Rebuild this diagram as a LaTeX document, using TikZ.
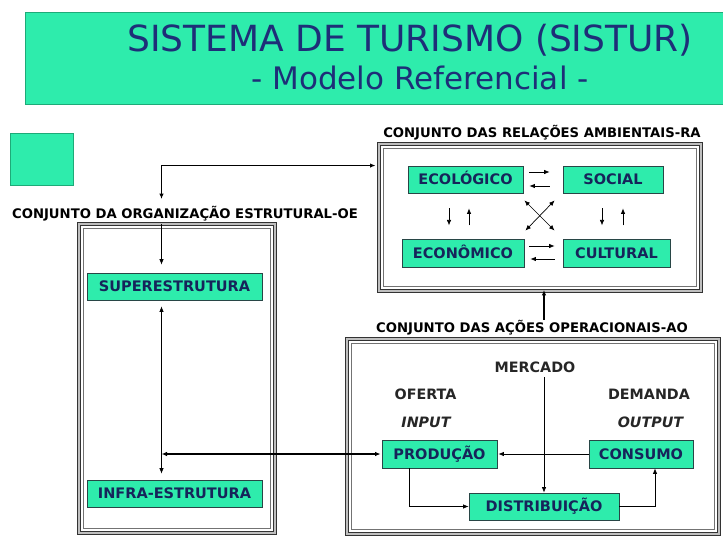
\documentclass[tikz,border=0pt]{standalone}
\usepackage{fontspec}
\setmainfont{DejaVu Sans}
\usetikzlibrary{arrows.meta}
\definecolor{aqua}{RGB}{46,236,172}
\definecolor{navy}{RGB}{22,36,90}
\definecolor{tnavy}{RGB}{30,46,120}
\definecolor{edge}{RGB}{40,70,70}
\definecolor{tedge}{RGB}{30,170,120}
\begin{document}
\begin{tikzpicture}[x=1pt,y=-1pt,
  box/.style={draw=edge, line width=0.8pt, fill=aqua, text=navy,
    font=\bfseries\fontsize{14.5}{16}\selectfont, inner sep=0pt,
    text height=10.4pt, text depth=0pt},
  lab/.style={font=\bfseries\fontsize{13.2}{15}\selectfont, text=black, inner sep=0pt, anchor=base},
  mk/.style={font=\bfseries\fontsize{14.3}{16}\selectfont, text=black!85, inner sep=0pt,
    text height=10.4pt, text depth=0pt},
  frame/.style={draw=black!80, line width=0.9pt, double=gray!50, double distance=1.8pt, inner sep=0pt},
  inframe/.style={draw=black!55, line width=0.6pt},
  tip/.tip={Latex[length=5.5pt,width=4.5pt]},
  arr/.style={-tip, line width=0.7pt, black},
  barr/.style={tip-tip, line width=1.5pt, black},
]
\useasboundingbox (0,0) rectangle (723,536);

% title
\node[draw=tedge, line width=1pt, fill=aqua, minimum width=702pt, minimum height=92pt, anchor=north west, inner sep=0pt] (tb) at (25,12) {};
\node[font=\fontsize{36}{40}\selectfont, text=tnavy, anchor=base, inner sep=0pt] (t1) at (410,51) {SISTEMA DE TURISMO (SISTUR)};
\node[font=\fontsize{31}{36}\selectfont, text=tnavy, anchor=base, inner sep=0pt] (t2) at (420,89) {- Modelo Referencial -};

% small square
\node[draw=tedge, line width=0.6pt, fill=aqua, minimum width=63pt, minimum height=52pt, anchor=north west, inner sep=0pt] (sq) at (10,133) {};

% frames
\node[frame, minimum width=196pt, minimum height=309pt] (oe) at (177,378.5) {};
\draw[inframe] ([shift={(5,5)}]oe.north west) rectangle ([shift={(-5,-5)}]oe.south east);
\node[frame, minimum width=322pt, minimum height=147pt] (ra) at (540,217.5) {};
\draw[inframe] ([shift={(5,5)}]ra.north west) rectangle ([shift={(-5,-5)}]ra.south east);
\node[frame, minimum width=372pt, minimum height=195pt] (ao) at (533,436.5) {};
\draw[inframe] ([shift={(5,5)}]ao.north west) rectangle ([shift={(-5,-5)}]ao.south east);

% labels
\node[lab] (oelab) at (185,218) {CONJUNTO DA ORGANIZAÇÃO ESTRUTURAL-OE};
\node[lab] (ralab) at (542,137) {CONJUNTO DAS RELAÇÕES AMBIENTAIS-RA};
\node[lab] (aolab) at (532,332) {CONJUNTO DAS AÇÕES OPERACIONAIS-AO};

% OE boxes
\node[box, minimum width=175pt, minimum height=27pt] (sup) at (174.5,286.5) {SUPERESTRUTURA};
\node[box, minimum width=175pt, minimum height=27pt] (inf) at (174.5,493.5) {INFRA-ESTRUTURA};

% RA boxes
\node[box, minimum width=115pt, minimum height=27pt] (eco) at (465.5,179.5) {ECOLÓGICO};
\node[box, minimum width=100pt, minimum height=27pt] (soc) at (613,179.5) {SOCIAL};
\node[box, minimum width=122pt, minimum height=28pt] (econ) at (463,253) {ECONÔMICO};
\node[box, minimum width=107pt, minimum height=28pt] (cult) at (616.5,253) {CULTURAL};

% AO content
\node[mk] (merc) at (535,367) {MERCADO};
\node[mk] (ofe) at (425.5,394) {OFERTA};
\node[mk] (dem) at (649,394) {DEMANDA};
\node[mk, font=\bfseries\itshape\fontsize{14.3}{16}\selectfont] (inp) at (426,422) {INPUT};
\node[mk, font=\bfseries\itshape\fontsize{14.3}{16}\selectfont] (outp) at (650.5,422) {OUTPUT};
\node[box, minimum width=115pt, minimum height=28pt] (prod) at (439.5,454) {PRODUÇÃO};
\node[box, minimum width=104pt, minimum height=28pt] (cons) at (641,454) {CONSUMO};
\node[box, minimum width=150pt, minimum height=27pt] (dist) at (544,506.5) {DISTRIBUIÇÃO};

% connectors OE
\coordinate (oeL) at (161.5,199);
\draw[barr] (oeL) |- ([shift={(-3,22)}]ra.north west);
\draw[arr, shorten >=8pt] (oe.north -| oeL) -- (sup.north -| oeL);
\draw[arr, tip-tip, shorten <=6pt, shorten >=6pt] (sup.south -| oeL) -- (inf.north -| oeL);
\draw[barr, shorten >=1pt] (oeL |- prod.west) -- (prod.west);

% RA internal arrows
\draw[arr] ([shift={(6,-7.5)}]eco.east) -- ([shift={(-13,-7.5)}]soc.west);
\draw[arr] ([shift={(-13,6.5)}]soc.west) -- ([shift={(6,6.5)}]eco.east);
\draw[arr] ([shift={(5,-7)}]econ.east) -- ([shift={(-8,-7)}]cult.west);
\draw[arr] ([shift={(-8,6)}]cult.west) -- ([shift={(6,6)}]econ.east);
\draw[arr] ([shift={(-16.5,15)}]eco.south) -- ([shift={(-16.5,32)}]eco.south);
\draw[arr] ([shift={(3.5,32)}]eco.south) -- ([shift={(3.5,15)}]eco.south);
\draw[arr] ([shift={(-11,15)}]soc.south) -- ([shift={(-11,32)}]soc.south);
\draw[arr] ([shift={(10,32)}]soc.south) -- ([shift={(10,15)}]soc.south);
\draw[arr, tip-tip] ([shift={(1,7)}]eco.south east) -- ([shift={(-8,-8)}]cult.north west);
\draw[arr, tip-tip] ([shift={(-8,7)}]soc.south west) -- ([shift={(1,-8)}]econ.north east);

% AO arrows
\draw[arr, line width=1.1pt, shorten >=-1.5pt] (aolab.north -| dist.north) -- (ra.south -| dist.north);
\draw[arr, shorten <=5pt] (merc.south -| dist.north) -- (dist.north);
\draw[arr, shorten >=1pt] (cons.west) -- (prod.east);
\draw[arr] ([xshift=-30.5pt]prod.south) |- (dist.west);
\draw[arr] (dist.east) -| ([xshift=14pt]cons.south);
\end{tikzpicture}
\end{document}
